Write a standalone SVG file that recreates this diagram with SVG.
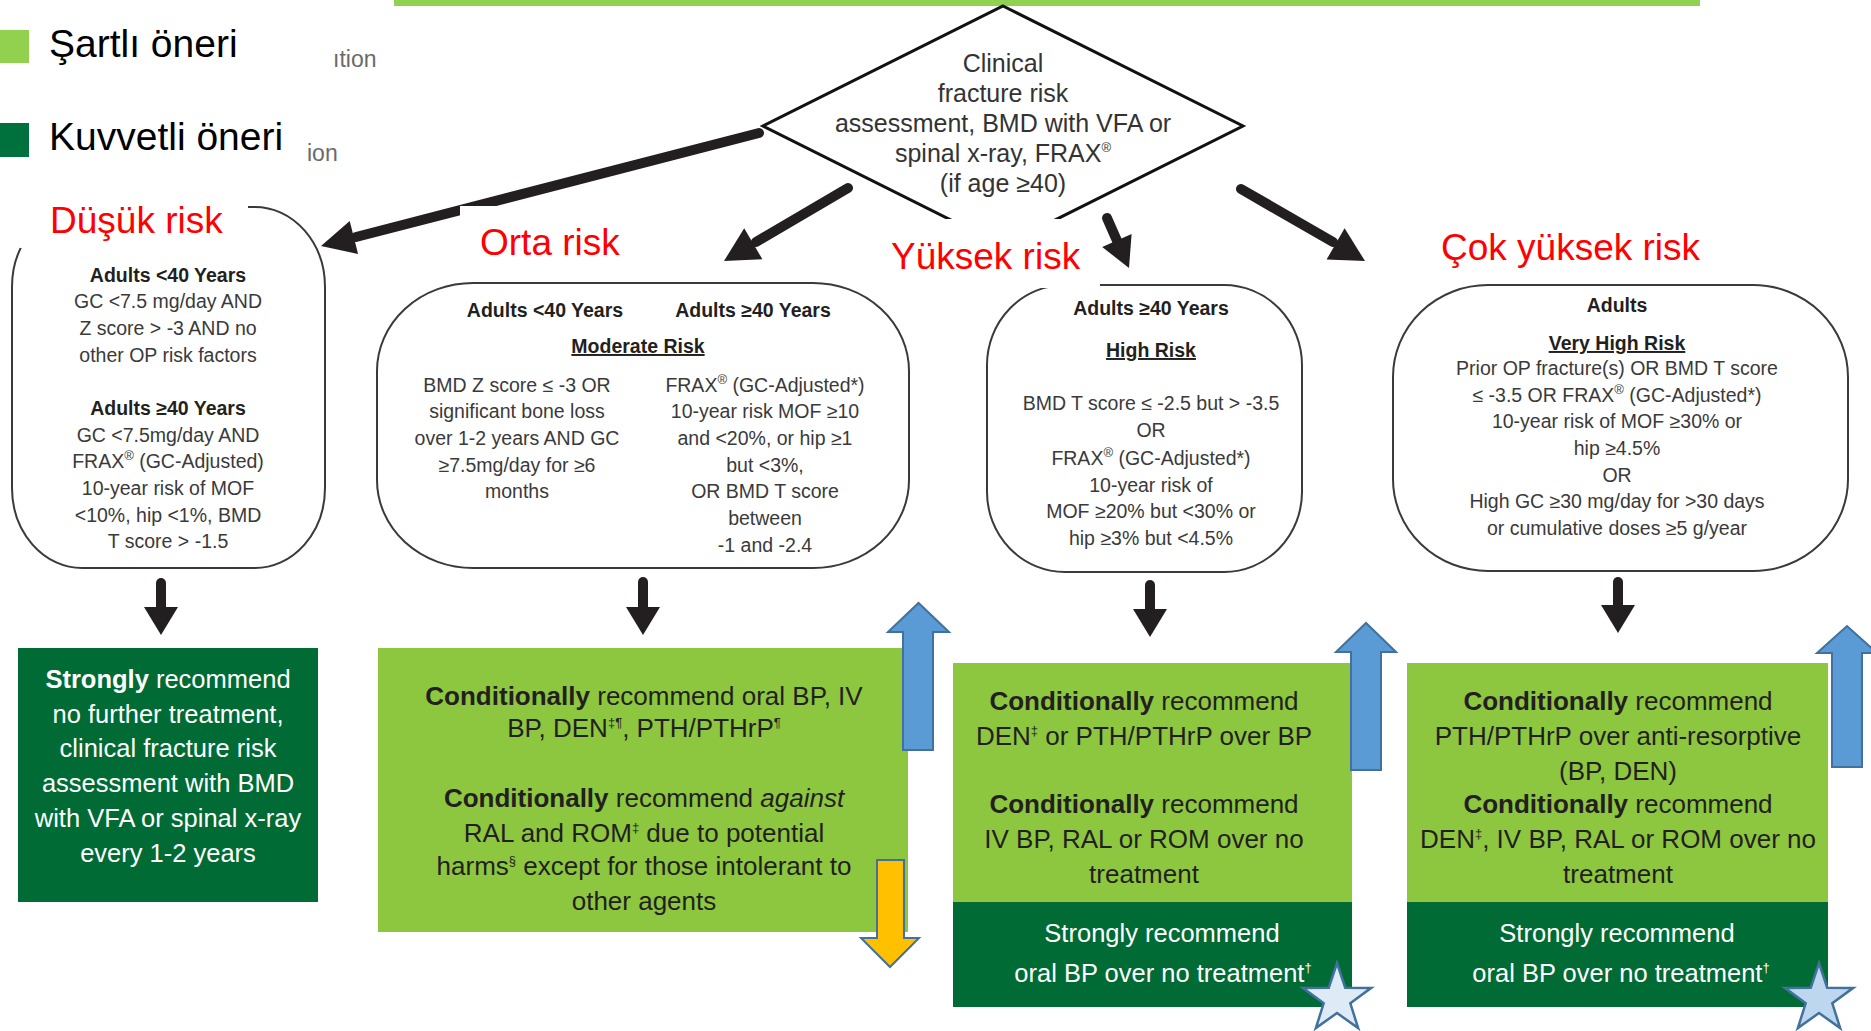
<svg xmlns="http://www.w3.org/2000/svg" width="1871" height="1031" viewBox="0 0 1871 1031">
<style>
text { font-family: "Liberation Sans", Arial, sans-serif; }
.nt { font-size: 19.5px; fill: #3a3a3a; text-anchor: middle; }
.b { font-weight: bold; fill: #231f20; }
.u { text-decoration: underline; }
.nodebox { fill: #ffffff; stroke: #3a3a3a; stroke-width: 2; }
.lg { fill: #8DC63F; }
.dg { fill: #006B35; }
.rt { font-size: 26px; fill: #231f20; text-anchor: middle; }
.wt { font-size: 25.5px; fill: #ffffff; text-anchor: middle; }
.dt { font-size: 25px; fill: #333333; text-anchor: middle; }
.red { font-size: 37px; fill: #ff0000; }
.leg { font-size: 39px; fill: #000000; }
.faint { font-size: 23px; fill: #6a6a6a; }
.sup { font-size: 13px; }
.conn line { stroke: #231f20; stroke-width: 10; stroke-linecap: round; }
.conn polygon { fill: #231f20; }
.blk { fill: #5B9BD5; stroke: #41719C; stroke-width: 2; }
.yel { fill: #FFC000; stroke: #41719C; stroke-width: 2; }
.star { stroke: #41719C; stroke-width: 2.5; }
.cover { fill: #ffffff; }
</style>
<defs>
<polygon id="star5" points="0,-36 8.23,-11.33 34.24,-11.12 13.32,4.33 21.16,29.12 0,14 -21.16,29.12 -13.32,4.33 -34.24,-11.12 -8.23,-11.33"/>
</defs>

<rect x="0" y="0" width="1871" height="1031" fill="#ffffff"/>

<!-- top bar -->
<rect x="394" y="0" width="1306" height="6" fill="#92D050"/>

<!-- faint remnants -->
<text class="faint" x="333" y="67">ıtion</text>
<text class="faint" x="307" y="161">ion</text>

<!-- legend -->
<g id="legend">
<rect x="0" y="30" width="29" height="33" fill="#92D050"/>
<text class="leg" x="49" y="57">Şartlı öneri</text>
<rect x="0" y="123" width="29" height="34" fill="#00703C"/>
<text class="leg" x="49" y="150">Kuvvetli öneri</text>
</g>

<!-- decision diamond -->
<g id="assessment">
<polygon points="1003,6 1243,126 1003,246 763,126" fill="#ffffff" stroke="#111111" stroke-width="3"/>
<text class="dt" x="1003" y="72">Clinical</text>
<text class="dt" x="1003" y="102">fracture risk</text>
<text class="dt" x="1003" y="132">assessment, BMD with VFA or</text>
<text class="dt" x="1003" y="162">spinal x-ray, FRAX<tspan class="sup" dy="-10">®</tspan></text>
<text class="dt" x="1003" y="192">(if age ≥40)</text>
</g>

<!-- low risk criteria -->
<g id="low-risk">
<rect class="nodebox" x="12" y="207" width="313" height="361" rx="70" ry="80"/>
<text class="nt b" x="168" y="282">Adults &lt;40 Years</text>
<text class="nt" x="168" y="308">GC &lt;7.5 mg/day AND</text>
<text class="nt" x="168" y="335">Z score &gt; -3 AND no</text>
<text class="nt" x="168" y="362">other OP risk factors</text>
<text class="nt b" x="168" y="415">Adults ≥40 Years</text>
<text class="nt" x="168" y="442">GC &lt;7.5mg/day AND</text>
<text class="nt" x="168" y="468">FRAX<tspan class="sup" dy="-8">®</tspan><tspan dy="8"> (GC-Adjusted)</tspan></text>
<text class="nt" x="168" y="495">10-year risk of MOF</text>
<text class="nt" x="168" y="522">&lt;10%, hip &lt;1%, BMD</text>
<text class="nt" x="168" y="548">T score &gt; -1.5</text>
</g>

<!-- moderate risk criteria -->
<g id="moderate-risk">
<rect class="nodebox" x="377" y="283" width="532" height="285" rx="96" ry="88"/>
<text class="nt b" x="545" y="317">Adults &lt;40 Years</text>
<text class="nt b" x="753" y="317">Adults ≥40 Years</text>
<text class="nt b u" x="638" y="353">Moderate Risk</text>
<text class="nt" x="517" y="392">BMD Z score ≤ -3 OR</text>
<text class="nt" x="517" y="418">significant bone loss</text>
<text class="nt" x="517" y="445">over 1-2 years AND GC</text>
<text class="nt" x="517" y="472">≥7.5mg/day for ≥6</text>
<text class="nt" x="517" y="498">months</text>
<text class="nt" x="765" y="392">FRAX<tspan class="sup" dy="-8">®</tspan><tspan dy="8"> (GC-Adjusted*)</tspan></text>
<text class="nt" x="765" y="418">10-year risk MOF ≥10</text>
<text class="nt" x="765" y="445">and &lt;20%, or hip ≥1</text>
<text class="nt" x="765" y="472">but &lt;3%,</text>
<text class="nt" x="765" y="498">OR BMD T score</text>
<text class="nt" x="765" y="525">between</text>
<text class="nt" x="765" y="552">-1 and -2.4</text>
</g>

<!-- high risk criteria -->
<g id="high-risk">
<rect class="nodebox" x="987" y="285" width="315" height="287" rx="78" ry="80"/>
<text class="nt b" x="1151" y="315">Adults ≥40 Years</text>
<text class="nt b u" x="1151" y="357">High Risk</text>
<text class="nt" x="1151" y="410">BMD T score ≤ -2.5 but &gt; -3.5</text>
<text class="nt" x="1151" y="437">OR</text>
<text class="nt" x="1151" y="465">FRAX<tspan class="sup" dy="-8">®</tspan><tspan dy="8"> (GC-Adjusted*)</tspan></text>
<text class="nt" x="1151" y="492">10-year risk of</text>
<text class="nt" x="1151" y="518">MOF ≥20% but &lt;30% or</text>
<text class="nt" x="1151" y="545">hip ≥3% but &lt;4.5%</text>
</g>

<!-- very high risk criteria -->
<g id="very-high-risk">
<rect class="nodebox" x="1393" y="285" width="455" height="286" rx="95" ry="92"/>
<text class="nt b" x="1617" y="312">Adults</text>
<text class="nt b u" x="1617" y="350">Very High Risk</text>
<text class="nt" x="1617" y="375">Prior OP fracture(s) OR BMD T score</text>
<text class="nt" x="1617" y="402">≤ -3.5 OR FRAX<tspan class="sup" dy="-8">®</tspan><tspan dy="8"> (GC-Adjusted*)</tspan></text>
<text class="nt" x="1617" y="428">10-year risk of MOF ≥30% or</text>
<text class="nt" x="1617" y="455">hip ≥4.5%</text>
<text class="nt" x="1617" y="482">OR</text>
<text class="nt" x="1617" y="508">High GC ≥30 mg/day for &gt;30 days</text>
<text class="nt" x="1617" y="535">or cumulative doses ≥5 g/year</text>
</g>

<!-- recommendation: low -->
<g id="rec-low">
<rect class="dg" x="18" y="648" width="300" height="254"/>
<text class="wt" x="168" y="688"><tspan font-weight="bold">Strongly</tspan> recommend</text>
<text class="wt" x="168" y="723">no further treatment,</text>
<text class="wt" x="168" y="757">clinical fracture risk</text>
<text class="wt" x="168" y="792">assessment with BMD</text>
<text class="wt" x="168" y="827">with VFA or spinal x-ray</text>
<text class="wt" x="168" y="862">every 1-2 years</text>
</g>

<!-- recommendation: moderate -->
<g id="rec-moderate">
<rect class="lg" x="378" y="648" width="530" height="284"/>
<text class="rt" x="644" y="705"><tspan font-weight="bold">Conditionally</tspan> recommend oral BP, IV</text>
<text class="rt" x="644" y="737">BP, DEN<tspan class="sup" dy="-10">‡¶</tspan><tspan dy="10">, PTH/PTHrP</tspan><tspan class="sup" dy="-10">¶</tspan></text>
<text class="rt" x="644" y="807"><tspan font-weight="bold">Conditionally</tspan> recommend <tspan font-style="italic">against</tspan></text>
<text class="rt" x="644" y="842">RAL and ROM<tspan class="sup" dy="-10">‡</tspan><tspan dy="10"> due to potential</tspan></text>
<text class="rt" x="644" y="875">harms<tspan class="sup" dy="-10">§</tspan><tspan dy="10"> except for those intolerant to</tspan></text>
<text class="rt" x="644" y="910">other agents</text>
</g>

<!-- recommendation: high -->
<g id="rec-high">
<rect class="lg" x="953" y="663" width="399" height="240"/>
<rect class="dg" x="953" y="902" width="399" height="105"/>
<text class="rt" x="1144" y="710"><tspan font-weight="bold">Conditionally</tspan> recommend</text>
<text class="rt" x="1144" y="745">DEN<tspan class="sup" dy="-10">‡</tspan><tspan dy="10"> or PTH/PTHrP over BP</tspan></text>
<text class="rt" x="1144" y="813"><tspan font-weight="bold">Conditionally</tspan> recommend</text>
<text class="rt" x="1144" y="848">IV BP, RAL or ROM over no</text>
<text class="rt" x="1144" y="883">treatment</text>
<text class="wt" x="1162" y="942">Strongly recommend</text>
<text class="wt" x="1163" y="982">oral BP over no treatment<tspan class="sup" dy="-10">†</tspan></text>
</g>

<!-- recommendation: very high -->
<g id="rec-very-high">
<rect class="lg" x="1407" y="663" width="421" height="240"/>
<rect class="dg" x="1407" y="902" width="421" height="105"/>
<text class="rt" x="1618" y="710"><tspan font-weight="bold">Conditionally</tspan> recommend</text>
<text class="rt" x="1618" y="745">PTH/PTHrP over anti-resorptive</text>
<text class="rt" x="1618" y="780">(BP, DEN)</text>
<text class="rt" x="1618" y="813"><tspan font-weight="bold">Conditionally</tspan> recommend</text>
<text class="rt" x="1618" y="848">DEN<tspan class="sup" dy="-10">‡</tspan><tspan dy="10">, IV BP, RAL or ROM over no</tspan></text>
<text class="rt" x="1618" y="883">treatment</text>
<text class="wt" x="1617" y="942">Strongly recommend</text>
<text class="wt" x="1621" y="982">oral BP over no treatment<tspan class="sup" dy="-10">†</tspan></text>
</g>

<!-- connectors -->
<g id="connectors" class="conn">
<line x1="759" y1="133" x2="356" y2="237"/>
<polygon points="321,246 349.7,221 358.1,254"/>
<line x1="848" y1="188" x2="756" y2="242"/>
<polygon points="724,261 744.2,228.3 762.4,259.3"/>
<line x1="1107" y1="218" x2="1118" y2="243"/>
<polygon points="1129,268 1102.2,247 1131.6,234"/>
<line x1="1241" y1="189" x2="1333" y2="242"/>
<polygon points="1365,261 1326.6,259.5 1344.6,228.3"/>
<line x1="161" y1="583" x2="161" y2="610" stroke-width="11"/>
<polygon points="144,607 178,607 161,635"/>
<line x1="643" y1="582" x2="643" y2="610" stroke-width="11"/>
<polygon points="626,607 660,607 643,635"/>
<line x1="1150" y1="585" x2="1150" y2="612" stroke-width="11"/>
<polygon points="1133,609 1167,609 1150,637"/>
<line x1="1618" y1="582" x2="1618" y2="608" stroke-width="11"/>
<polygon points="1601,605 1635,605 1618,633"/>
</g>

<!-- risk labels with white backgrounds -->
<g id="label-low">
<rect class="cover" x="20" y="168" width="228" height="80"/>
<text class="red" x="50" y="233">Düşük risk</text>
</g>
<g id="label-moderate">
<rect class="cover" x="460" y="206" width="200" height="62"/>
<text class="red" x="480" y="255">Orta risk</text>
</g>
<g id="label-high">
<rect class="cover" x="882" y="219" width="218" height="69"/>
<text class="red" x="891" y="269">Yüksek risk</text>
</g>
<g id="label-very-high">
<text class="red" x="1441" y="260">Çok yüksek risk</text>
</g>

<!-- block arrows -->
<g id="change-arrows">
<polygon class="blk" points="903,750 933,750 933,632 949,632 918.5,603 888,632 903,632"/>
<polygon class="yel" points="877,860 904,860 904,938 919,938 890,967 861,938 877,938"/>
<polygon class="blk" points="1351,770 1381,770 1381,652 1396,652 1366,623 1336,652 1351,652"/>
<polygon class="blk" points="1832,767 1862,767 1862,653 1877,653 1847,626 1817,653 1832,653"/>
</g>

<!-- stars -->
<g id="stars">
<use href="#star5" class="star" x="1337" y="999" fill="#DEEBF7"/>
<use href="#star5" class="star" x="1819" y="999" fill="#BDD7EE"/>
</g>
</svg>
